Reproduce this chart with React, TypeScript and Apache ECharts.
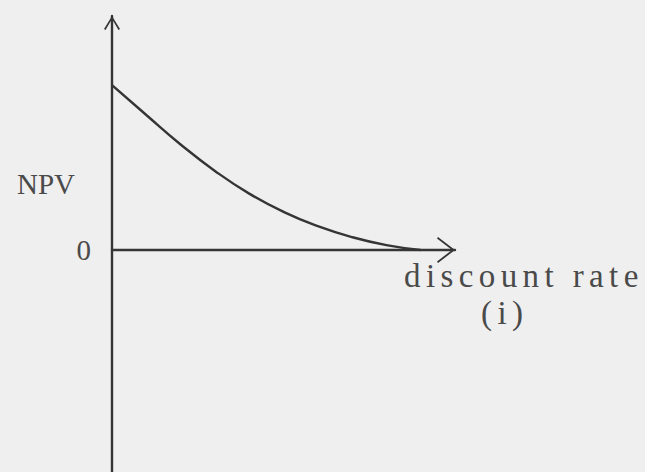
import React, { useEffect, useRef } from "react";
import * as echarts from "echarts";

// Discount rate (i) along the horizontal axis and the project's NPV at that rate
const rates: number[] = [0, 2, 4, 6, 8, 10, 12, 14, 16, 18];
const npv: number[] = [70.5, 57.7, 45.1, 33.8, 24.1, 16.3, 10.2, 5.5, 2.1, 0];

// Vertical axis range and its single labelled tick
const npvMin = -100;
const npvMax = 100;
const npvTick = 100;

const xAxisTitle = "discount rate";
const xAxisSymbol = "(i)";
const yAxisTitle = "NPV";

const INK = "#353535";
const TEXT = "#4a4a4a";

// Open chevron arrow heads, drawn as thin filled outlines pointing up
const arrowX = "path://M0,17 L13,0 L26,17 L24.4,18 L13,3 L1.6,18 Z";
const arrowY = "path://M0,13 L8,0 L16,13 L14.5,14 L8,3 L1.5,14 Z";

// Typewriter-style spacing for the horizontal axis caption
const spacedTexts = [xAxisTitle, xAxisSymbol];
const spacing = "5.4px";

export default function App() {
  const ref = useRef<HTMLDivElement>(null);

  useEffect(() => {
    const el = ref.current;
    if (!el) return;
    const chart = echarts.init(el, undefined, { renderer: "svg" });

    const applySpacing = () => {
      el.querySelectorAll("text").forEach((t) => {
        if (spacedTexts.includes((t.textContent || "").trim())) {
          t.setAttribute("letter-spacing", spacing);
        }
      });
    };

    chart.setOption({
      animation: false,
      backgroundColor: "#efefef",
      grid: {
        left: 112,
        right: 190,
        top: 16,
        bottom: -12,
        containLabel: false,
        outerBoundsMode: "none",
      },
      xAxis: {
        type: "value",
        min: 0,
        max: 20,
        axisLine: {
          show: true,
          onZero: true,
          symbol: ["none", arrowX],
          symbolSize: [26, 18],
          symbolOffset: [0, -9],
          lineStyle: { color: INK, width: 2.4 },
        },
        axisTick: { show: false },
        axisLabel: { show: false },
        splitLine: { show: false },
      },
      yAxis: {
        type: "value",
        min: npvMin,
        max: npvMax,
        interval: npvTick,
        axisLine: {
          show: true,
          onZero: true,
          symbol: ["none", arrowY],
          symbolSize: [16, 14],
          symbolOffset: [0, -7],
          lineStyle: { color: INK, width: 2.4 },
        },
        axisTick: { show: false },
        splitLine: { show: false },
        axisLabel: {
          show: true,
          margin: 21,
          formatter: (v: number) => (v === 0 ? "0" : ""),
          color: TEXT,
          fontFamily: "Liberation Serif",
          fontSize: 29,
          verticalAlign: "middle",
          padding: [0, 0, 20, 0],
        },
      },
      graphic: [
        {
          type: "text",
          left: 17,
          top: 169,
          style: {
            text: yAxisTitle,
            fill: TEXT,
            font: "29px 'Liberation Serif'",
          },
        },
        {
          type: "text",
          x: 404,
          y: 276,
          style: {
            text: xAxisTitle,
            fill: TEXT,
            font: "33px 'Liberation Serif'",
            verticalAlign: "middle",
          },
        },
        {
          type: "text",
          x: 481,
          y: 313,
          style: {
            text: xAxisSymbol,
            fill: TEXT,
            font: "33px 'Liberation Serif'",
            verticalAlign: "middle",
          },
        },
      ],
      series: [
        {
          type: "line",
          data: rates.map((r, k) => [r, npv[k]]),
          smooth: true,
          showSymbol: false,
          lineStyle: { color: INK, width: 2.4 },
          z: 3,
        },
      ],
    });

    applySpacing();
    chart.on("finished", applySpacing);

    return () => chart.dispose();
  }, []);

  return (
    <div
      ref={ref}
      style={{ position: "fixed", left: 0, top: 0, width: 645, height: 472 }}
    />
  );
}
